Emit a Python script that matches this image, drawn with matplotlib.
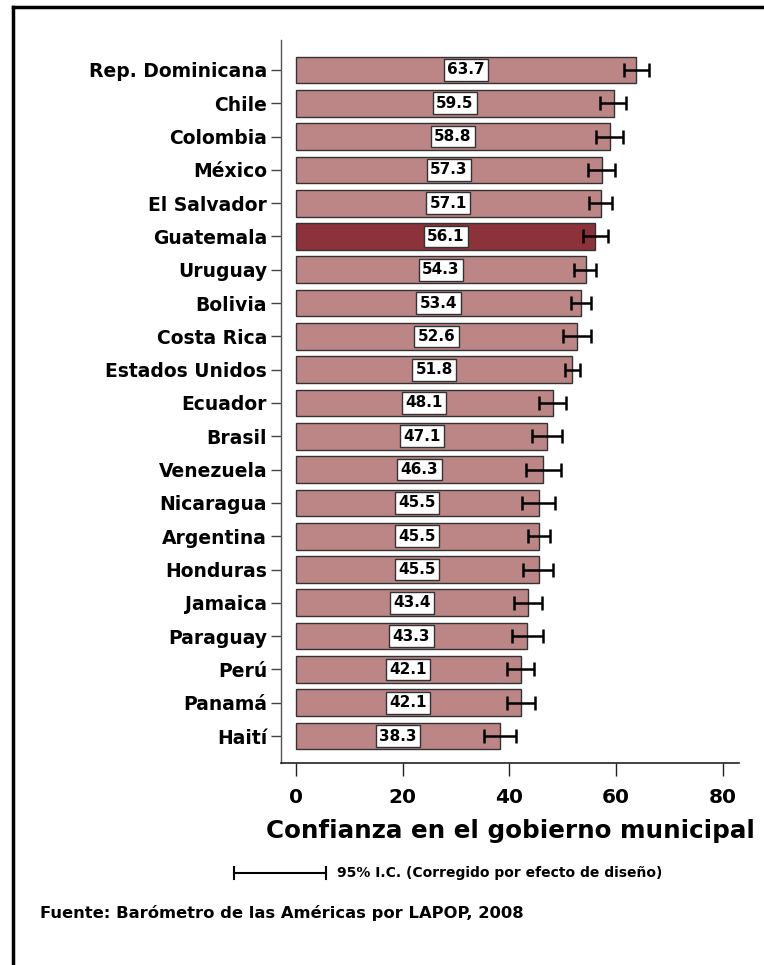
import numpy as np
import matplotlib.pyplot as plt
from matplotlib.lines import Line2D

paises = ["Rep. Dominicana", "Chile", "Colombia", "México", "El Salvador",
          "Guatemala", "Uruguay", "Bolivia", "Costa Rica", "Estados Unidos",
          "Ecuador", "Brasil", "Venezuela", "Nicaragua", "Argentina",
          "Honduras", "Jamaica", "Paraguay", "Perú", "Panamá", "Haití"]
valores = [63.7, 59.5, 58.8, 57.3, 57.1, 56.1, 54.3, 53.4, 52.6, 51.8,
           48.1, 47.1, 46.3, 45.5, 45.5, 45.5, 43.4, 43.3, 42.1, 42.1, 38.3]
ic_inf = [61.4, 57.0, 56.3, 54.8, 54.9, 53.7, 52.1, 51.6, 50.1, 50.4,
          45.5, 44.2, 43.1, 42.3, 43.4, 42.6, 40.8, 40.4, 39.6, 39.5, 35.3]
ic_sup = [66.1, 61.9, 61.2, 59.7, 59.2, 58.5, 56.3, 55.2, 55.2, 53.2,
          50.6, 49.9, 49.6, 48.6, 47.5, 48.2, 46.1, 46.2, 44.6, 44.7, 41.2]
destacado = "Guatemala"

plt.rcParams["font.family"] = "DejaVu Sans"
plt.rcParams["font.weight"] = "bold"

fig = plt.figure(figsize=(7.64, 9.65), dpi=100)
ax = fig.add_axes([281 / 764, 1 - 763 / 965, 458 / 764, 723 / 965])

y = np.arange(len(paises))
colores = ["#8c323b" if p == destacado else "#bc8586" for p in paises]
ax.barh(y, valores, height=0.8, color=colores, edgecolor="#333333", linewidth=1.0, zorder=2)

v = np.array(valores)
err = np.vstack([v - np.array(ic_inf), np.array(ic_sup) - v])
ax.errorbar(v, y, xerr=err, fmt="none", ecolor="black", elinewidth=1.8,
            capsize=5, capthick=1.8, zorder=3)

for yi, val in zip(y, valores):
    ax.text(val / 2, yi, f"{val:.1f}", ha="center", va="center", fontsize=11,
            fontweight="bold", zorder=4,
            bbox=dict(boxstyle="square,pad=0.22", facecolor="white",
                      edgecolor="#333333", linewidth=1.0))

ax.set_xlim(-2.8, 83)
ax.set_ylim(len(paises) - 1 + 0.81, -0.9)
ax.set_yticks(y)
ax.set_yticklabels(paises, fontsize=13.5, fontweight="bold")
ax.set_xticks([0, 20, 40, 60, 80])
ax.set_xticklabels(["0", "20", "40", "60", "80"], fontsize=14.5, fontweight="bold")
ax.tick_params(axis="y", length=7, width=1, color="#444444", pad=3)
ax.tick_params(axis="x", length=9, width=1, color="#222222", pad=9)
ax.spines["top"].set_visible(False)
ax.spines["right"].set_visible(False)
ax.spines["left"].set_color("#555555")
ax.spines["left"].set_linewidth(1.0)
ax.spines["bottom"].set_color("#222222")
ax.spines["bottom"].set_linewidth(1.2)

fig.text(755 / 764, 1 - 831 / 965, "Confianza en el gobierno municipal", ha="right",
         va="center", fontsize=17.7, fontweight="bold")

# leyenda del intervalo de confianza
y_ley = 1 - 873 / 965
fig.add_artist(Line2D([234 / 764, 326 / 764], [y_ley, y_ley], color="black", lw=1.5))
for xc in (234 / 764, 326 / 764):
    fig.add_artist(Line2D([xc, xc], [y_ley - 0.0065, y_ley + 0.0065], color="black", lw=1.5))
fig.text(337 / 764, y_ley, "95% I.C. (Corregido por efecto de diseño)", ha="left",
         va="center", fontsize=10, fontweight="bold")

fig.text(40 / 764, 1 - 913 / 965, "Fuente: Barómetro de las Américas por LAPOP, 2008",
         ha="left", va="center", fontsize=11.8, fontweight="bold")

# marco
fig.add_artist(Line2D([13 / 764, 13 / 764], [0, 1 - 7 / 965], color="black", lw=2.5))
fig.add_artist(Line2D([13 / 764, 1], [1 - 7 / 965, 1 - 7 / 965], color="black", lw=2.5))

plt.savefig("out.png", dpi=100)
plt.close()
